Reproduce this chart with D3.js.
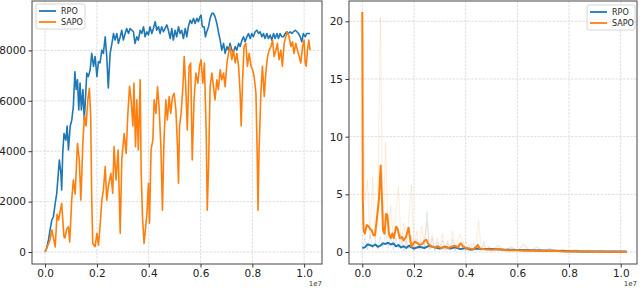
<!DOCTYPE html>
<html>
<head>
<meta charset="utf-8">
<script src="https://cdn.jsdelivr.net/npm/d3@7"></script>
<style>
  body { margin: 0; background: #fff; }
  svg { display: block; font-family: "DejaVu Sans", sans-serif; }
</style>
</head>
<body>
<div id="chart"></div>
<script>
// ---- data (steps in units of 1e7) ----
var rpoSteps = [0,0.006,0.013,0.019,0.026,0.032,0.039,0.045,0.051,0.055,0.061,0.064,0.068,0.073,0.08,0.085,0.09,0.097,0.103,0.109,0.115,0.12,0.125,0.13,0.135,0.14,0.146,0.151,0.154,0.161,0.167,0.174,0.18,0.187,0.193,0.2,0.206,0.212,0.219,0.225,0.232,0.238,0.244,0.251,0.258,0.264,0.27,0.277,0.283,0.29,0.296,0.302,0.309,0.315,0.322,0.328,0.341,0.347,0.354,0.36,0.367,0.373,0.38,0.386,0.393,0.399,0.405,0.412,0.418,0.425,0.431,0.438,0.444,0.45,0.457,0.463,0.47,0.476,0.483,0.489,0.495,0.502,0.508,0.515,0.521,0.527,0.534,0.541,0.547,0.553,0.56,0.566,0.573,0.579,0.586,0.592,0.598,0.602,0.607,0.614,0.619,0.624,0.631,0.637,0.644,0.65,0.656,0.663,0.669,0.676,0.682,0.689,0.695,0.702,0.708,0.714,0.721,0.727,0.734,0.74,0.747,0.753,0.76,0.766,0.772,0.779,0.785,0.792,0.798,0.804,0.811,0.818,0.824,0.83,0.837,0.843,0.849,0.856,0.862,0.869,0.875,0.882,0.888,0.895,0.901,0.907,0.914,0.92,0.927,0.933,0.939,0.946,0.952,0.959,0.965,0.972,0.978,0.985,0.991,0.997,1.004,1.01,1.017,1.023];
var rpoReward = [0,150,480,870,1270,1400,1930,2330,3120,3650,3120,2460,3910,4700,4440,5000,4050,5000,5240,5770,7150,6450,6830,5640,6700,5640,6450,5240,5770,7100,6960,7230,7880,7370,7760,6960,7560,7500,8010,7880,8540,7760,6510,7880,8280,8670,8410,8670,8280,8540,8800,8410,8670,8870,8670,8870,8740,8280,8540,8410,8800,8670,8940,8540,8740,8610,8940,8670,8870,9140,8800,8940,8670,8940,8740,8870,9010,8800,8470,8870,8410,8800,8540,8940,8670,8800,8470,8870,8540,8940,9200,9070,9270,9070,9270,9140,9340,9400,8940,8940,8540,8740,8940,9270,9470,9470,9340,9070,8740,8400,8010,8280,7880,8150,8010,8280,8010,7940,8150,8010,8280,8150,8410,8540,8340,8540,8670,8470,8670,8540,8740,8800,8670,8740,8540,8670,8470,8670,8470,8610,8410,8670,8470,8670,8470,8670,8540,8540,8670,8740,8670,8740,8670,8740,8800,8740,8670,8540,8340,8670,8540,8670,8670,8670];

var sapoSteps = [0,0.019,0.026,0.039,0.046,0.052,0.058,0.064,0.07,0.073,0.077,0.083,0.09,0.095,0.103,0.109,0.116,0.125,0.132,0.138,0.146,0.152,0.158,0.165,0.171,0.176,0.18,0.184,0.193,0.2,0.206,0.212,0.219,0.225,0.232,0.238,0.244,0.254,0.261,0.266,0.274,0.282,0.29,0.296,0.305,0.313,0.319,0.326,0.332,0.339,0.343,0.349,0.354,0.36,0.367,0.371,0.376,0.382,0.386,0.393,0.399,0.403,0.409,0.416,0.421,0.428,0.434,0.44,0.447,0.453,0.459,0.466,0.472,0.479,0.485,0.492,0.498,0.505,0.511,0.515,0.519,0.525,0.532,0.537,0.543,0.549,0.556,0.562,0.568,0.575,0.582,0.59,0.596,0.602,0.609,0.615,0.622,0.626,0.631,0.637,0.644,0.65,0.656,0.663,0.669,0.676,0.682,0.689,0.695,0.702,0.708,0.714,0.721,0.727,0.734,0.74,0.747,0.753,0.757,0.762,0.768,0.775,0.781,0.788,0.795,0.801,0.807,0.814,0.818,0.822,0.826,0.833,0.839,0.846,0.853,0.859,0.865,0.872,0.878,0.884,0.891,0.897,0.903,0.91,0.916,0.923,0.929,0.935,0.942,0.949,0.955,0.961,0.968,0.974,0.981,0.987,0.994,1.0,1.004,1.008,1.013,1.018,1.023];
var sapoReward = [0,476,873,200,1500,1270,1600,1930,1000,600,560,900,1000,400,2100,2860,2300,4300,3650,2060,4400,5400,5000,6040,6500,5400,2100,340,210,740,270,1000,2060,2460,3390,2060,2600,3120,2330,4180,2860,4050,740,3650,4700,3910,5400,6580,6040,5000,6700,4180,6040,4050,6830,3120,1400,340,740,1530,2730,1140,4050,4440,6040,5500,6560,5770,4180,1660,4440,6040,5240,6170,5500,6170,6300,5640,4180,2730,5000,5500,6560,7760,6560,4840,7370,7500,3650,6040,7100,6700,7370,7630,6700,7500,4700,1660,3390,6560,7100,6560,6040,6830,6450,7230,6830,7100,6560,7500,7880,8150,7630,8010,7500,7880,7370,6300,5000,6700,8150,8280,7370,7880,7370,7230,6960,6300,4300,1660,4050,6300,7370,6170,7230,7760,8010,8150,8410,7760,8010,8280,7630,8010,7370,8280,8540,8740,8540,8150,8340,7880,8280,8010,7760,7500,8150,8410,7500,7370,8010,8410,8010];

// right panel: raw (faint) and smoothed losses
var rawSteps = [0,0.01,0.02,0.03,0.04,0.05,0.06,0.07,0.08,0.09,0.1,0.11,0.12,0.13,0.14,0.15,0.16,0.17,0.18,0.19,0.2,0.21,0.22,0.23,0.24,0.25,0.26,0.27,0.28,0.29,0.3,0.31,0.32,0.33,0.34,0.35,0.36,0.37,0.38,0.39,0.4,0.41,0.42,0.43,0.44,0.45,0.46,0.47,0.48,0.49,0.5,0.525,0.55,0.575,0.6,0.625,0.65,0.675,0.7,0.725,0.75,0.775,0.8,0.825,0.85,0.875,0.9,0.925,0.95,0.975,1.0,1.023];
var rpoRaw = [0.3,1.2,0.2,1.5,0.3,1.0,0.2,1.3,0.4,1.8,0.3,1.5,0.2,1.2,0.3,1.6,0.1,1.0,0.3,1.4,0.1,1.1,0.2,0.9,0.2,3.5,0.2,1.2,0.1,0.9,0.2,1.0,0.1,0.8,0.2,1.1,0.1,0.7,0.2,0.9,0.1,0.6,0.2,0.8,0.1,0.6,0.1,0.9,0.1,0.5,0.1,0.6,0.1,0.5,0.1,0.7,0.05,0.4,0.05,0.3,0.05,0.25,0.03,0.2,0.03,0.15,0.02,0.12,0.02,0.1,0.01,0.06];
var sapoRaw = [20.8,4.5,6.2,1.2,6.5,1.0,3.5,20.3,1.5,9.5,1.2,4.0,0.8,3.5,5.6,0.6,2.5,0.5,3.0,5.8,0.4,1.8,0.3,2.2,0.5,2.6,0.3,1.5,0.2,1.2,0.3,1.6,0.2,1.0,0.3,1.8,0.2,1.1,1.5,0.2,0.9,0.2,0.7,0.1,0.8,2.7,0.2,0.6,0.1,0.5,0.1,0.5,0.1,0.4,0.1,0.6,0.1,0.5,0.05,0.3,0.05,0.2,0.05,0.2,0.03,0.1,0.02,0.1,0.02,0.08,0.01,0.05];

var rpoSmoothSteps = [0,0.01,0.02,0.03,0.04,0.05,0.06,0.07,0.08,0.09,0.1,0.11,0.12,0.13,0.14,0.15,0.16,0.17,0.18,0.19,0.2,0.22,0.24,0.26,0.28,0.3,0.32,0.34,0.36,0.38,0.4,0.42,0.44,0.46,0.5,0.55,0.6,0.65,0.7,0.75,0.8,0.85,0.9,0.95,1.0,1.023];
var rpoSmooth = [0.35,0.4,0.65,0.6,0.5,0.65,0.45,0.55,0.75,0.7,0.8,0.65,0.75,0.5,0.6,0.4,0.5,0.35,0.55,0.4,0.3,0.45,0.35,0.55,0.4,0.3,0.45,0.3,0.4,0.25,0.35,0.2,0.3,0.25,0.25,0.2,0.18,0.15,0.12,0.1,0.07,0.05,0.05,0.04,0.04,0.04];
var sapoSmoothSteps = [0,0.002,0.005,0.01,0.017,0.025,0.03,0.036,0.043,0.049,0.056,0.064,0.071,0.077,0.08,0.086,0.092,0.097,0.103,0.11,0.116,0.122,0.131,0.136,0.145,0.154,0.16,0.169,0.179,0.186,0.19,0.203,0.214,0.222,0.235,0.241,0.248,0.254,0.267,0.28,0.293,0.306,0.319,0.332,0.345,0.357,0.37,0.38,0.39,0.402,0.415,0.428,0.441,0.447,0.454,0.473,0.5,0.53,0.56,0.6,0.63,0.66,0.7,0.74,0.78,0.82,0.86,0.9,0.95,1.0,1.023];
var sapoSmooth = [20.8,4.5,1.9,1.6,2.35,2.2,2.0,1.9,1.45,1.45,2.8,4.5,7.5,4.0,1.9,1.6,3.3,3.2,1.6,1.2,1.6,1.2,2.2,2.05,1.2,1.3,1.0,1.3,2.1,1.0,0.46,0.9,0.75,0.6,0.75,1.0,1.05,0.75,0.46,0.4,0.5,0.32,0.46,0.32,0.46,0.55,0.4,0.75,0.5,0.32,0.3,0.23,0.46,0.62,0.3,0.23,0.2,0.25,0.15,0.15,0.1,0.12,0.08,0.1,0.05,0.04,0.03,0.02,0.01,0.0,0.0];

var xTicks = [0, 0.2, 0.4, 0.6, 0.8, 1.0];
var leftYTicks = [0, 2000, 4000, 6000, 8000];
var rightYTicks = [0, 5, 10, 15, 20];
var seriesNames = ['RPO', 'SAPO'];
var colors = ['#1f77b4', '#ff7f0e'];

var W = 640, H = 288;
var svg = d3.select('#chart').append('svg')
	.attr('width', W)
	.attr('height', H);

function zip(xs, ys) {
	return xs.map(function(x, i) { return [x, ys[i]]; });
}

function panel(box, xDom, yDom, yTicks, id) {
	var x = d3.scaleLinear().domain(xDom).range([box.x0, box.x1]);
	var y = d3.scaleLinear().domain(yDom).range([box.y1, box.y0]);

	svg.append('clipPath').attr('id', id)
		.append('rect')
		.attr('x', box.x0).attr('y', box.y0)
		.attr('width', box.x1 - box.x0).attr('height', box.y1 - box.y0);

	// grid
	var grid = svg.append('g')
		.attr('stroke', '#d4d4d4')
		.attr('stroke-width', 0.8)
		.attr('stroke-dasharray', '2.5,1.2');
	grid.selectAll('.gx').data(xTicks).enter().append('line')
		.attr('x1', function(d) { return x(d); }).attr('x2', function(d) { return x(d); })
		.attr('y1', box.y0).attr('y2', box.y1);
	grid.selectAll('.gy').data(yTicks).enter().append('line')
		.attr('y1', function(d) { return y(d); }).attr('y2', function(d) { return y(d); })
		.attr('x1', box.x0).attr('x2', box.x1);

	// axes
	var ax = svg.append('g')
		.attr('transform', 'translate(0,' + box.y1 + ')')
		.call(d3.axisBottom(x).tickValues(xTicks).tickFormat(d3.format('.1f')).tickSize(3.5).tickPadding(2.5));
	var ay = svg.append('g')
		.attr('transform', 'translate(' + box.x0 + ',0)')
		.call(d3.axisLeft(y).tickValues(yTicks).tickFormat(d3.format('d')).tickSize(3.5).tickPadding(2.5));
	[ax, ay].forEach(function(a) {
		a.select('.domain').remove();
		a.selectAll('line').attr('stroke', '#333');
		a.selectAll('text').attr('font-size', 10.5).attr('fill', '#222')
			.attr('font-family', '"DejaVu Sans", sans-serif');
	});

	svg.append('text')
		.attr('x', box.x1).attr('y', 286)
		.attr('text-anchor', 'end')
		.attr('font-size', 7).attr('fill', '#333')
		.text('1e7');

	var g = svg.append('g').attr('clip-path', 'url(#' + id + ')');
	return { x: x, y: y, g: g, box: box };
}

function drawLine(p, data, color, width, opacity) {
	var line = d3.line()
		.x(function(d) { return p.x(d[0]); })
		.y(function(d) { return p.y(d[1]); });
	p.g.append('path')
		.datum(data)
		.attr('fill', 'none')
		.attr('stroke', color)
		.attr('stroke-width', width)
		.attr('stroke-opacity', opacity)
		.attr('stroke-linejoin', 'round')
		.attr('d', line);
}

function spines(p) {
	svg.append('rect')
		.attr('x', p.box.x0).attr('y', p.box.y0)
		.attr('width', p.box.x1 - p.box.x0).attr('height', p.box.y1 - p.box.y0)
		.attr('fill', 'none').attr('stroke', '#444').attr('stroke-width', 1);
}

function legend(lx, ly, w) {
	var lg = svg.append('g').attr('transform', 'translate(' + lx + ',' + ly + ')');
	lg.append('rect')
		.attr('width', w).attr('height', 25).attr('rx', 2)
		.attr('fill', '#fff').attr('fill-opacity', 0.85)
		.attr('stroke', '#ccc').attr('stroke-width', 0.8);
	seriesNames.forEach(function(name, i) {
		var yy = 7 + i * 11;
		lg.append('line')
			.attr('x1', 3).attr('x2', 20).attr('y1', yy).attr('y2', yy)
			.attr('stroke', colors[i]).attr('stroke-width', 1.8);
		lg.append('text')
			.attr('x', 25).attr('y', yy + 3)
			.attr('font-size', 8).attr('fill', '#222')
			.text(name);
	});
}

// left: reward curves
var left = panel({ x0: 32, x1: 322, y0: 1, y1: 264 }, [-0.0506, 1.069], [-476, 9960], leftYTicks, 'clipL');
drawLine(left, zip(rpoSteps, rpoReward), colors[0], 1.6, 1);
drawLine(left, zip(sapoSteps, sapoReward), colors[1], 1.6, 1);
spines(left);
legend(36, 4, 49);

// right: raw (faint) and smoothed curves
var right = panel({ x0: 349, x1: 637, y0: 1, y1: 264 }, [-0.0515, 1.063], [-1.04, 21.76], rightYTicks, 'clipR');
drawLine(right, zip(rawSteps, rpoRaw), colors[0], 1, 0.15);
drawLine(right, zip(rawSteps, sapoRaw), colors[1], 1, 0.15);
drawLine(right, zip(rpoSmoothSteps, rpoSmooth), colors[0], 2, 1);
drawLine(right, zip(sapoSmoothSteps, sapoSmooth), colors[1], 2, 1);
spines(right);
legend(587, 5, 48);
</script>
</body>
</html>
